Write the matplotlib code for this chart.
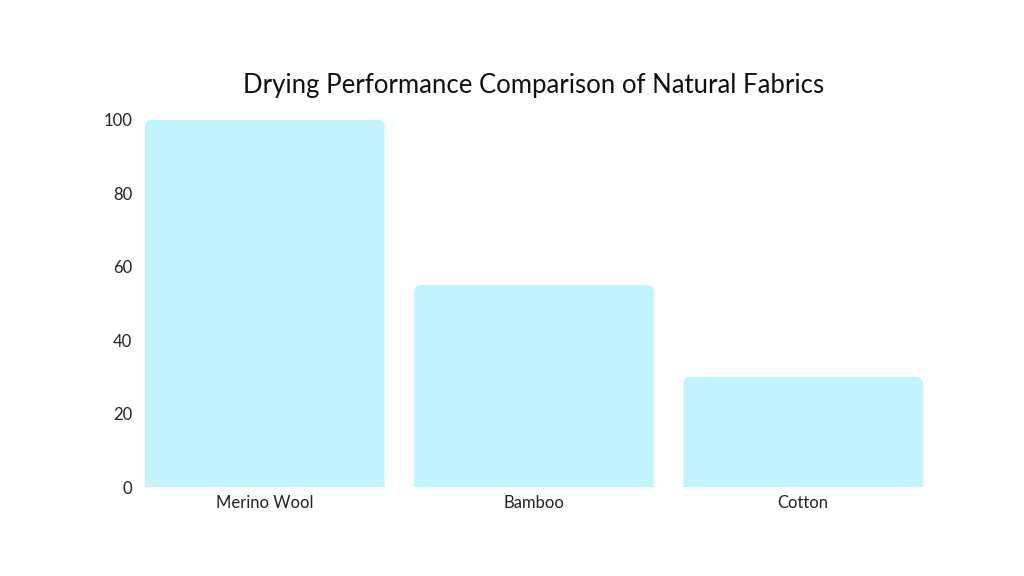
import matplotlib
matplotlib.use("Agg")
import matplotlib.pyplot as plt
from matplotlib.patches import FancyBboxPatch, Rectangle

# data
fabrics = ["Merino Wool", "Bamboo", "Cotton"]
drying_score = [100, 55, 30]
y_ticks = [0, 20, 40, 60, 80, 100]

bar_color = "#C1F3FC"
text_color = "#222222"

plt.rcParams["font.family"] = ["Lato", "DejaVu Sans"]

fig = plt.figure(figsize=(10.24, 5.76), dpi=100)
W, H = 1024, 576
ax = fig.add_axes([145 / W, 89 / H, (923 - 145) / W, (487 - 120) / H])

width = 0.89
bars = ax.bar(range(len(fabrics)), drying_score, width=width, color="none")

# rounded top corners: draw a rounded box that dips below 0, clip it at the baseline
x_px = (923 - 145) / 2.89
y_px = (487 - 120) / 100.0
r = 7 / x_px
ry = 7 / y_px
aspect = ry / r
for b in bars:
    x0, w, h = b.get_x(), b.get_width(), b.get_height()
    p = FancyBboxPatch((x0, -2 * ry), w, h + 2 * ry,
                       boxstyle=f"round,pad=0,rounding_size={r}",
                       mutation_aspect=aspect,
                       facecolor=bar_color, edgecolor="none")
    ax.add_patch(p)
    clip = Rectangle((x0 - 1, 0), w + 2, 200, transform=ax.transData)
    p.set_clip_path(clip)

ax.set_xlim(-width / 2, len(fabrics) - 1 + width / 2)
ax.set_ylim(0, 100)
ax.set_xticks(range(len(fabrics)))
ax.set_xticklabels(fabrics, fontsize=12, color=text_color)
ax.set_yticks(y_ticks)
ax.set_yticklabels([str(t) for t in y_ticks], fontsize=12, color=text_color)
ax.tick_params(axis="both", length=0)
ax.tick_params(axis="y", pad=9)
ax.tick_params(axis="x", pad=6)
for s in ax.spines.values():
    s.set_visible(False)

fig.text(534 / W, 1 - 85 / H, "Drying Performance Comparison of Natural Fabrics",
         ha="center", va="center", fontsize=18.5, color="#111111")

fig.savefig("out.png", dpi=100, facecolor="white")
